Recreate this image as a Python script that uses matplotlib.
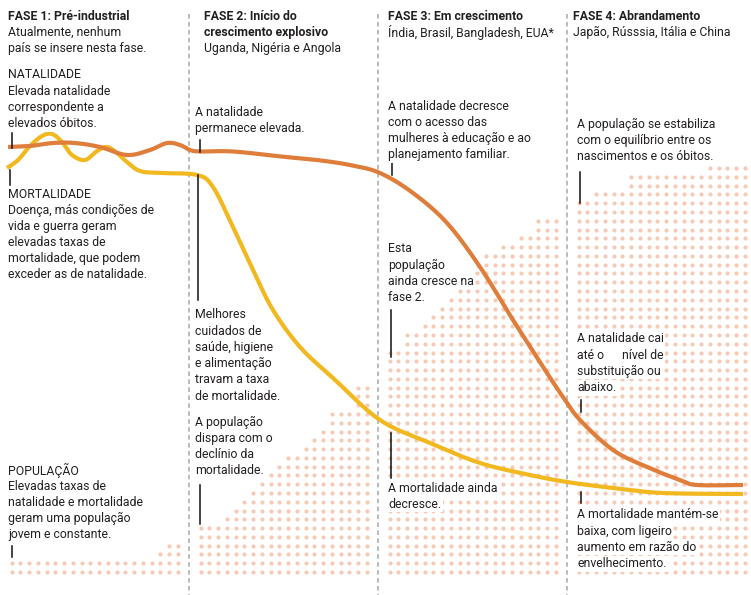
import numpy as np
import matplotlib
matplotlib.use("Agg")
import matplotlib.pyplot as plt

# schematic chart, values in picture units (x to the right, y downwards)
W, H = 751, 595

# population dots: number of stacked dots per column, 20 columns per phase
pop_fase1 = [2, 2, 2, 2, 2, 2, 2, 2, 2, 2, 2, 2, 2, 2, 2, 2, 2, 3, 4, 4]
pop_fase2 = [6, 6, 6, 7, 8, 9, 10, 11, 12, 13, 14, 14, 15, 16, 17, 19, 19, 19, 22, 22]
pop_fase3 = [26, 26, 28, 28, 29, 30, 31, 32, 33, 34, 35, 37, 37, 38, 38, 39, 39, 41, 41, 41]
pop_fase4 = [43, 43, 44, 44, 44, 44, 46, 46, 46, 46, 46, 46, 46, 46, 46, 47, 47, 47, 47, 47]

# birth rate (natalidade) and death rate (mortalidade) curves
nat_x = [8, 30, 53, 75, 100, 127, 150, 167, 180, 190, 200, 233, 283, 317, 350, 380,
         413, 447, 480, 513, 547, 563, 580, 613, 647, 680, 697, 743]
nat_y = [147, 146, 143, 143, 147, 155, 150, 143, 145, 150, 151.5, 151.5, 156.7, 160, 165, 173,
         193, 223, 267, 320, 373, 397, 420, 450, 467, 480, 485, 485]
mort_x = [7, 18, 30, 42, 52, 62, 72, 85, 97, 107, 117, 127, 140, 160, 197, 213, 233, 253,
          273, 300, 333, 380, 430, 480, 530, 567, 613, 663, 743]
mort_y = [168, 160, 146, 136, 134, 142, 155, 160, 151, 147, 153, 162, 171, 173, 175, 187, 227, 270,
          310, 347, 378, 420, 443, 463, 475, 482, 488, 493, 494]

divisorias = [189, 378, 567]

headers = [
    (8, ["FASE 1: Pré-industrial"], ["Atualmente, nenhum", "país se insere nesta fase."]),
    (204, ["FASE 2: Início do", "crescimento explosivo"], ["Uganda, Nigéria e Angola"]),
    (388, ["FASE 3: Em crescimento"], ["Índia, Brasil, Bangladesh, EUA*"]),
    (573, ["FASE 4: Abrandamento"], ["Japão, Rússsia, Itália e China"]),
]

# (x, y of first line, lines)
notas = [
    (8, 75, ["NATALIDADE", "Elevada natalidade", "correspondente a", "elevados óbitos."]),
    (8, 194, ["MORTALIDADE", "Doença, más condições de", "vida e guerra geram",
              "elevadas taxas de", "mortalidade, que podem", "exceder as de natalidade."]),
    (8, 470, ["POPULAÇÃO", "Elevadas taxas de", "natalidade e mortalidade",
              "geram uma população", "jovem e constante."]),
    (195, 112, ["A natalidade", "permanece elevada."]),
    (195, 315, ["Melhores", "cuidados de", "saúde, higiene", "e alimentação",
                "travam a taxa", "de mortalidade."]),
    (195, 422, ["A população", "dispara com o", "declínio da", "mortalidade."]),
    (388, 106, ["A natalidade decresce", "com o acesso das",
                "mulheres à educação e ao", "planejamento familiar."]),
    (388, 249, ["Esta", "população", "ainda cresce na", "fase 2."]),
    (388, 488, ["A mortalidade ainda", "decresce."]),
    (577, 124, ["A população se estabiliza", "com o equilíbrio entre os",
                "nascimentos e os óbitos."]),
    (577, 339, ["A natalidade cai", "até o      nível de", "substituição ou", "abaixo."]),
    (577, 515, ["A mortalidade mantém-se", "baixa, com ligeiro",
                "aumento em razão do", "envelhecimento."]),
]

# leader ticks (x, y top, y bottom)
ticks = [(12, 133, 148), (10, 170, 185), (12, 546, 557),
         (200, 140, 152), (198, 175, 300), (200, 485, 524),
         (392, 163, 175), (391, 310, 357), (391, 433, 478),
         (580, 172, 203), (581, 400, 412), (581, 492, 503)]


def catmull(xs, ys, n=24):
    p = np.column_stack([xs, ys]).astype(float)
    p = np.vstack([p[0], p, p[-1]])
    out = []
    t = np.linspace(0, 1, n, endpoint=False)[:, None]
    for i in range(1, len(p) - 2):
        p0, p1, p2, p3 = p[i - 1], p[i], p[i + 1], p[i + 2]
        out.append(0.5 * (2 * p1 + (-p0 + p2) * t + (2 * p0 - 5 * p1 + 4 * p2 - p3) * t ** 2
                          + (-p0 + 3 * p1 - 3 * p2 + p3) * t ** 3))
    out.append(p[-2][None])
    c = np.vstack(out)
    return c[:, 0], c[:, 1]


plt.rcParams['font.family'] = ['Roboto', 'DejaVu Sans']
fig = plt.figure(figsize=(7.51, 5.95), dpi=100)
ax = fig.add_axes([0, 0, 1, 1])
ax.set_xlim(0, W)
ax.set_ylim(H, 0)
ax.axis("off")

# dot grid
step_x, step_y, base_y = 8.75, 8.78, 572
dx, dy = [], []
for k, fase in enumerate([pop_fase1, pop_fase2, pop_fase3, pop_fase4]):
    x0 = k * 189 + 11.5
    for j, h in enumerate(fase):
        for r in range(h):
            dx.append(x0 + j * step_x)
            dy.append(base_y - r * step_y)
ax.scatter(dx, dy, s=9, color="#F6CAB4", linewidths=0, zorder=1)

for xd in divisorias:
    ax.plot([xd, xd], [14, H], color="#A8A8A8", lw=1.1, ls=(0, (3, 2.2)), zorder=2)

x, y = catmull(nat_x, nat_y)
ax.plot(x, y, color="#DF7D3A", lw=3, solid_capstyle="butt", zorder=4)
x, y = catmull(mort_x, mort_y)
ax.plot(x, y, color="#F2B81F", lw=3, solid_capstyle="butt", zorder=3)

for xt, y0, y1 in ticks:
    ax.plot([xt, xt], [y0, y1], color="#111111", lw=1.1, zorder=5)

lh = 16.2
txt = dict(fontsize=8.8, color="#231F20", va="center", ha="left", zorder=6)
for xh, bold, plain in headers:
    yy = 16
    for s in bold:
        ax.text(xh, yy, s, fontweight="bold", **txt)
        yy += lh
    for s in plain:
        ax.text(xh, yy, s, **txt)
        yy += lh

for xn, yn, lines in notas:
    for i, s in enumerate(lines):
        ax.text(xn, yn + i * lh, s,
                bbox=dict(boxstyle="square,pad=0.12", fc="white", ec="none"), **txt)

fig.savefig("out.png", dpi=100)
